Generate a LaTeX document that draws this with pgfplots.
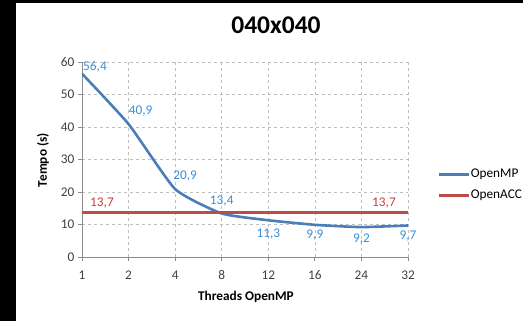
\documentclass[border=0pt]{standalone}
\usepackage{pgfplots}
\pgfplotsset{compat=1.18}
\usepackage{pgfplotstable}
\usepackage{fontspec}
\setmainfont{Carlito}

\definecolor{mpline}{HTML}{4A7EBB}
\definecolor{accline}{HTML}{BE4B48}
\definecolor{mplabel}{HTML}{3A8ED6}
\definecolor{acclabel}{HTML}{D03A3A}
\definecolor{gridc}{HTML}{BFBFBF}
\definecolor{axisc}{HTML}{8C8C8C}
\definecolor{tickc}{HTML}{404040}

% OpenMP run times per thread count; dx/dy place each value label
\pgfplotstableread{
x y dx dy
0 56.4 13 7
1 40.9 12 13
2 20.9 10 13
3 13.4 0 12
4 11.3 0 -14
5 9.9 0 -10
6 9.2 0 -12
7 9.7 0 -11
}\openmp

% OpenACC reference time (constant)
\pgfplotstableread{
x y
0 13.7
1 13.7
2 13.7
3 13.7
4 13.7
5 13.7
6 13.7
7 13.7
}\openacc

% OpenACC labels shown only at both ends
\pgfplotstableread{
x y dx dy
0 13.7 20 9.5
7 13.7 -24 9.5
}\acclabels

\newcommand\fs{\fontsize{13.3pt}{16pt}\selectfont}

\begin{document}
\begin{tikzpicture}
\path[use as bounding box] (0,0) rectangle (523pt,321pt);
\fill[black] (0,0) rectangle (16pt,321pt);
\fill[black] (0,318pt) rectangle (523pt,321pt);
\begin{axis}[
  at={(82pt,64pt)}, anchor=south west,
  scale only axis, width=326pt, height=195pt,
  xmin=0, xmax=7, ymin=0, ymax=60,
  xtick={0,...,7}, xticklabels={1,2,4,8,12,16,24,32},
  ytick={0,10,...,60},
  axis x line*=bottom, axis y line*=left,
  axis line style={axisc, line width=0.8pt, -},
  grid=major, grid style={gridc, dashed, line width=0.6pt},
  tick style={axisc, line width=0.8pt},
  tick align=outside, major tick length=4pt,
  ticklabel style={font=\fs, text=tickc},
  xticklabel style={yshift=-6pt},
  /pgf/number format/assume math mode=true,
  title={040x040},
  title style={at={(axis description cs:0.595,1.159)}, anchor=center,
    font=\bfseries\fontsize{25.5pt}{30pt}\selectfont},
  xlabel={Threads OpenMP},
  xlabel style={at={(axis description cs:0.503,-0.205)}, anchor=center, font=\bfseries\fs},
  ylabel={Tempo (s)},
  ylabel style={at={(axis description cs:-0.12,0.497)}, anchor=center, font=\bfseries\fs},
  legend style={at={(axis description cs:1.089,0.37)}, anchor=west, draw=none, fill=none,
    inner sep=0pt, font=\fs, row sep=9pt, nodes={inner sep=1pt}},
  legend cell align=left,
  legend image code/.code={\draw[#1] (0pt,0pt) -- (30pt,0pt);},
]
\addplot[mpline, line width=2.6pt, smooth, tension=0.3] table[x=x,y=y] {\openmp};
\addlegendentry{OpenMP}
\addplot[accline, line width=2.6pt] table[x=x,y=y] {\openacc};
\addlegendentry{OpenACC}

\addplot[forget plot, only marks, mark=*, mark size=0pt, mark options={draw=none,fill=none},
  point meta=explicit,
  visualization depends on={\thisrow{dx}\as\dx},
  visualization depends on={\thisrow{dy}\as\dy},
  nodes near coords={\pgfmathprintnumber[fixed,fixed zerofill,precision=1,use comma]{\pgfplotspointmeta}},
  every node near coord/.append style={anchor=center, xshift=\dx, yshift=\dy,
    font=\fs, text=mplabel}]
  table[x=x,y=y,meta=y] {\openmp};

\addplot[forget plot, only marks, mark=*, mark size=0pt, mark options={draw=none,fill=none},
  point meta=explicit,
  visualization depends on={\thisrow{dx}\as\dx},
  visualization depends on={\thisrow{dy}\as\dy},
  nodes near coords={\pgfmathprintnumber[fixed,fixed zerofill,precision=1,use comma]{\pgfplotspointmeta}},
  every node near coord/.append style={anchor=center, xshift=\dx, yshift=\dy,
    font=\fs, text=acclabel}]
  table[x=x,y=y,meta=y] {\acclabels};
\end{axis}
\end{tikzpicture}
\end{document}
